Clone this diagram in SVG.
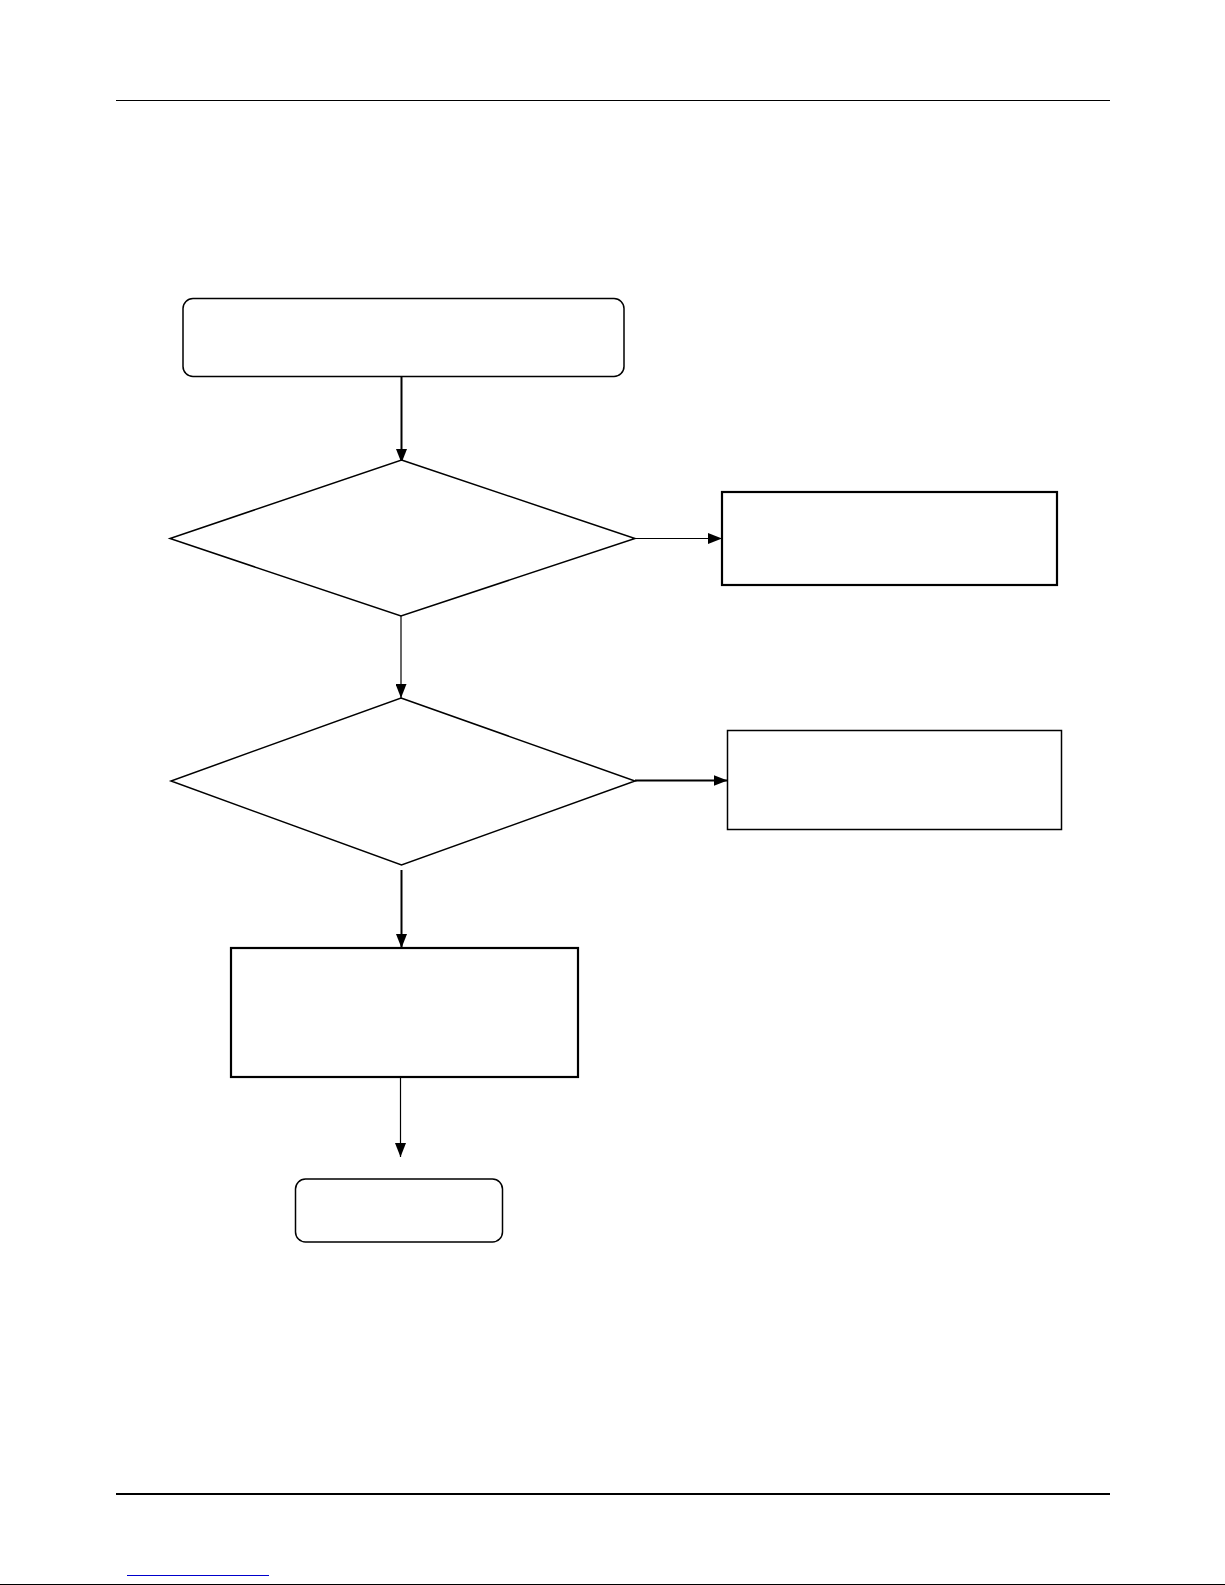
<svg xmlns="http://www.w3.org/2000/svg" width="1225" height="1585" viewBox="0 0 1225 1585">
<style>
.n{fill:#fff;stroke:#000;stroke-width:1.5}
.t{stroke-width:2.2}
.c{fill:none;stroke:#000;stroke-width:1.2}
.ct{stroke-width:2}
</style>
<defs>
<marker id="ah" viewBox="0 0 14 11" refX="14" refY="5.5" markerWidth="14" markerHeight="11" markerUnits="userSpaceOnUse" orient="auto">
<path d="M0,0 L14,5.5 L0,11 Z" fill="#000"/>
</marker>
</defs>
<rect width="1225" height="1585" fill="#fff"/>
<g id="page">
<line x1="116" y1="100.5" x2="1110" y2="100.5" stroke="#000" stroke-width="1.2"/>
<line x1="116" y1="1494" x2="1110" y2="1494" stroke="#000" stroke-width="2.2"/>
<line x1="127" y1="1575.5" x2="269" y2="1575.5" stroke="#0000cc" stroke-width="1.2"/>
<line x1="0" y1="1584.5" x2="1225" y2="1584.5" stroke="#000" stroke-width="1.2"/>
</g>
<g id="connectors">
<line class="c ct" x1="401.5" y1="377" x2="401.5" y2="463" marker-end="url(#ah)"/>
<line class="c" x1="635" y1="538.5" x2="722" y2="538.5" marker-end="url(#ah)"/>
<line class="c" x1="401" y1="616" x2="401" y2="698" marker-end="url(#ah)"/>
<line class="c ct" x1="635" y1="780.5" x2="727.5" y2="780.5" marker-end="url(#ah)"/>
<line class="c ct" x1="401.5" y1="870" x2="401.5" y2="948" marker-end="url(#ah)"/>
<line class="c" x1="400.5" y1="1077" x2="400.5" y2="1157" marker-end="url(#ah)"/>
</g>
<g id="start"><rect class="n" x="183" y="298.5" width="441" height="78" rx="10" ry="10"/></g>
<g id="decision1"><polygon class="n" points="401.5,460 635,538.5 401,616 170,538.5"/></g>
<g id="box1"><rect class="n t" x="722" y="492" width="335" height="93"/></g>
<g id="decision2"><polygon class="n" points="401,698 635,781 401.5,865 171,781"/></g>
<g id="box2"><rect class="n" x="727.5" y="730.5" width="334" height="99"/></g>
<g id="box3"><rect class="n t" x="231" y="948" width="347" height="129"/></g>
<g id="end"><rect class="n" x="295.5" y="1179" width="207" height="63" rx="10" ry="10"/></g>
</svg>
